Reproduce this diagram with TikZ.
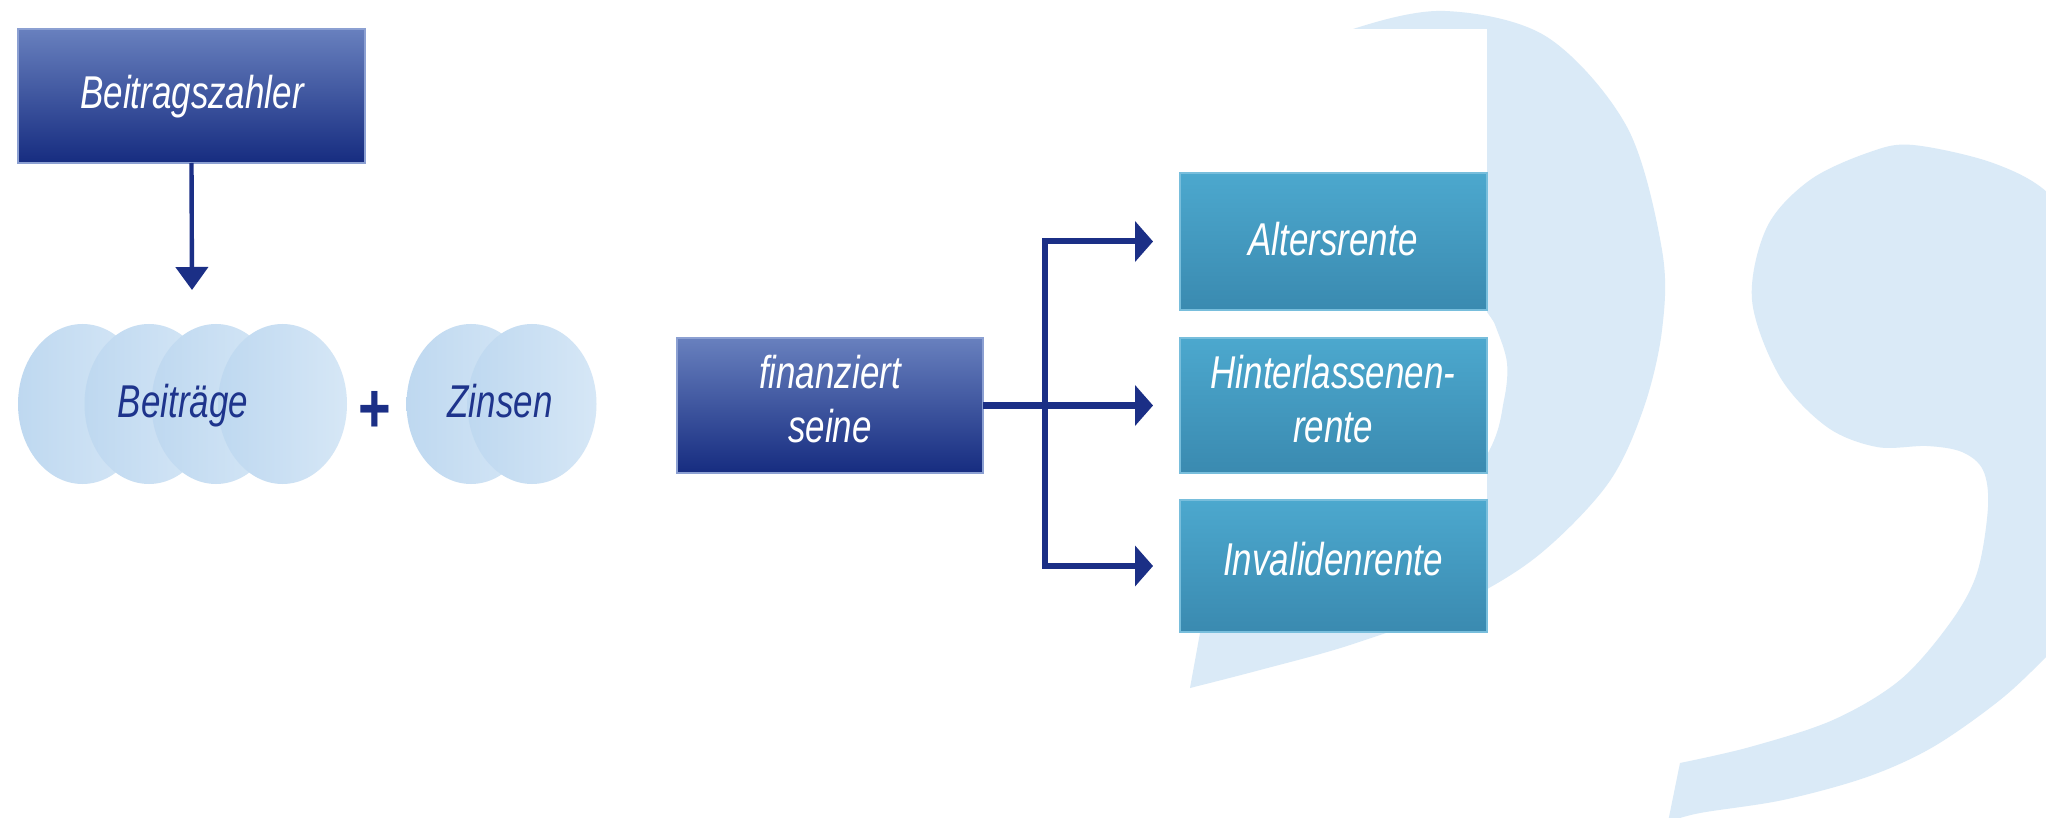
\documentclass[tikz,border=0pt]{standalone}
\usepackage{fontspec}
\setmainfont{Liberation Sans}[FakeStretch=0.76]
\newfontfamily\plainsans{Liberation Sans}
\usetikzlibrary{arrows.meta,shapes.geometric}

\definecolor{navy}{RGB}{27,47,134}
\definecolor{boxtop}{RGB}{104,128,190}
\definecolor{boxbot}{RGB}{22,44,128}
\definecolor{boxedge}{RGB}{140,160,210}
\definecolor{tealtop}{RGB}{76,168,206}
\definecolor{tealbot}{RGB}{58,138,176}
\definecolor{tealedge}{RGB}{120,190,220}
\definecolor{ellL}{RGB}{190,216,240}
\definecolor{ellR}{RGB}{214,231,246}
\definecolor{bgblue}{RGB}{218,234,247}
\definecolor{txtnavy}{RGB}{30,52,140}

\begin{document}
\begin{tikzpicture}[x=0.5pt,y=-0.5pt,
  darkbox/.style={rectangle, inner sep=0pt, outer sep=0pt,
    top color=boxtop, bottom color=boxbot, draw=boxedge, line width=0.6pt},
  tealbox/.style={rectangle, inner sep=0pt, outer sep=0pt,
    top color=tealtop, bottom color=tealbot, draw=tealedge, line width=0.8pt,
    minimum width=153.5pt},
  coin/.style={ellipse, inner sep=0pt, outer sep=0pt,
    minimum width=64.5pt, minimum height=80pt,
    left color=ellL, right color=ellR},
  wtxt/.style={inner sep=0pt, text=white, font=\fontsize{23}{27}\selectfont\itshape},
  ntxt/.style={inner sep=0pt, text=txtnavy, font=\fontsize{23}{27}\selectfont\itshape},
  conn/.style={draw=navy, line width=3pt},
  tip/.style={-{Triangle[length=9pt,width=20pt]}, shorten >=13.5pt}
]
\useasboundingbox (0,0) rectangle (2046,818);
\fill[white] (0,0) rectangle (2046,818);

% large pale logo shapes in the background
\begin{scope}
  \clip (0,0) rectangle (2046,818);
  \fill[bgblue]
    plot[smooth, tension=0.55] coordinates {(1240,120) (1290,60) (1353,29) (1445,11)
      (1547,37) (1627,127) (1662,250) (1662,330) (1643,410) (1607,485) (1535,558)
      (1450,608) (1350,645) (1260,670) (1190,688)}
    -- (1200,633)
    -- plot[smooth, tension=0.55] coordinates {(1200,633) (1320,605) (1420,555)
      (1488,453) (1504,400) (1507,363) (1497,330) (1487,312) (1440,250) (1370,180)
      (1240,120)}
    -- cycle;
  \fill[bgblue]
    (1668,822) -- (1680,763)
    -- plot[smooth, tension=0.55] coordinates {(1680,763) (1750,747) (1833,720)
      (1900,680) (1950,623) (1977,573) (1988,507) (1983,470) (1962,452) (1927,446)
      (1877,447) (1827,427) (1780,377) (1752,300) (1767,227) (1810,180) (1870,152)
      (1913,145) (1993,163) (2050,195) (2090,260)}
    -- (2110,300) -- (2110,600)
    -- plot[smooth, tension=0.55] coordinates {(2070,630) (2046,657) (2000,700)
      (1933,747) (1867,777) (1783,800) (1700,813) (1668,822)}
    -- cycle;
\end{scope}
\fill[white] (0,29) rectangle (1487,632);

% boxes
\node[darkbox, minimum width=173.5pt, minimum height=67pt] (payer) at (191.5,96) {};
\node[darkbox, minimum width=153pt, minimum height=67.5pt] (finanz) at (830,405.5) {};
\node[tealbox, minimum height=68.5pt] (alt) at (1333.5,241.5) {};
\node[tealbox, minimum height=67.5pt] (hint) at (1333.5,405.5) {};
\node[tealbox, minimum height=66pt] (inv) at (1333.5,566) {};

% contributions and interest
\node[coin] (b1) at (82.5,404) {};
\node[coin] (b2) at (149,404) {};
\node[coin] (b3) at (216,404) {};
\node[coin] (b4) at (282.5,404) {};
\node[coin] (z1) at (471,404) {};
\node[coin] (z2) at (532,404) {};

% labels
\node[wtxt, anchor=base] (lpayer) at (192,109) {Beitragszahler};
\node[wtxt, align=center] (lfin) at (830,399) {finanziert\\seine};
\node[wtxt, anchor=base] (lalt) at (1333,256) {Altersrente};
\node[wtxt, align=center] (lhint) at (1333,399) {Hinterlassenen-\\rente};
\node[wtxt, anchor=base] (linv) at (1333,575) {Invalidenrente};
\node[ntxt, anchor=base] (lbeitr) at (183,417) {Beiträge};
\node[ntxt, anchor=base] (lzins) at (500,417) {Zinsen};
\node[inner sep=0pt, text=navy, font=\fontsize{28}{32}\selectfont\plainsans\bfseries]
  (plus) at (375,412) {\scalebox{1}[1.25]{+}};

% connectors
\coordinate (drop) at (192,290);
\draw[conn, line width=2.2pt, -{Triangle[length=11.5pt,width=16pt]}] (payer.south) -- (drop);
\coordinate (split) at (1045,405.5);
\draw[conn, line width=3.6pt, tip] (finanz.east) -- (hint.west);
\draw[conn, tip] (split) |- (alt.west);
\draw[conn, tip] (split) |- (inv.west);
\end{tikzpicture}
\end{document}
